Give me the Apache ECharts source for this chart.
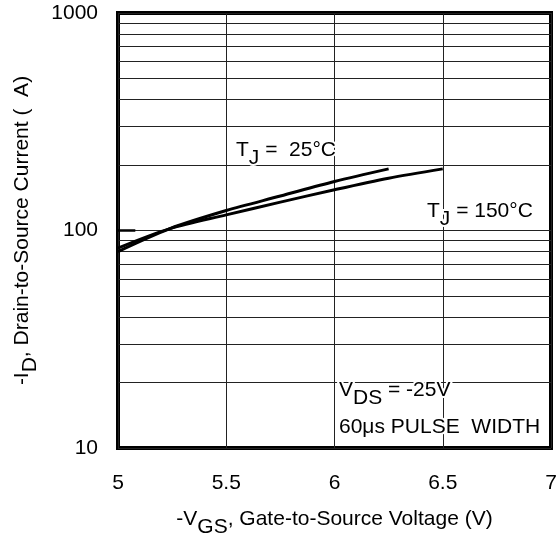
<!DOCTYPE html>
<html>
<head>
<meta charset="utf-8">
<script src="https://cdn.jsdelivr.net/npm/echarts@6/dist/echarts.min.js"></script>
<style>
html,body{margin:0;padding:0;background:#fff;}
#chart{width:558px;height:537px;}
</style>
</head>
<body>
<div id="chart"></div>
<script>
// Data
var vgs25 = [5.0, 5.24, 5.5, 5.75, 6.0, 6.25];
var id25 = [80, 102, 123.5, 144, 168, 192];
var vgs150 = [5.0, 5.24, 5.5, 5.75, 6.0, 6.25, 6.5];
var id150 = [83, 102, 118, 135, 154, 174, 192];
var xTicks = [5, 5.5, 6, 6.5, 7];
var yTicks = [10, 100, 1000];
var minorGrid = [20, 30, 40, 50, 60, 70, 80, 90, 200, 300, 400, 500, 600, 700, 800, 900];

function pairs(xs, ys) { return xs.map(function (x, i) { return [x, ys[i]]; }); }

var FONT = 'Liberation Sans';
var FS = 21;
var chart = echarts.init(document.getElementById('chart'));
var subRich = {
  n: { fontSize: FS, fontFamily: FONT, color: '#000', lineHeight: 25, verticalAlign: 'top' },
  s: { fontSize: FS, fontFamily: FONT, color: '#000', lineHeight: 25, verticalAlign: 'top', padding: [8, 0, 0, 0] }
};
var haloRich = {
  n: { fontSize: FS, fontFamily: FONT, fill: '#000', stroke: '#fff', lineWidth: 4, lineHeight: 25, verticalAlign: 'top' },
  s: { fontSize: FS, fontFamily: FONT, fill: '#000', stroke: '#fff', lineWidth: 4, lineHeight: 25, verticalAlign: 'top', padding: [8, 0, 0, 0] }
};
var option = {
  animation: false,
  backgroundColor: '#fff',
  grid: { left: 118, right: 7, top: 13, bottom: 89, show: true, borderColor: '#000', borderWidth: 4,
    backgroundColor: 'transparent', containLabel: false, outerBoundsMode: 'none' },
  xAxis: {
    type: 'value', min: 5, max: 7, interval: 0.5,
    axisLine: { show: false }, axisTick: { show: false },
    splitLine: { show: true, lineStyle: { color: '#222', width: 1 } },
    axisLabel: { fontSize: FS, fontFamily: FONT, color: '#000', margin: 25,
      formatter: function (v) { return xTicks.indexOf(v) >= 0 ? String(v) : ''; } },
    name: '{n|-V}{s|GS}{n|, Gate-to-Source Voltage (V)}',
    nameLocation: 'middle', nameGap: 61,
    nameTextStyle: { rich: subRich }
  },
  yAxis: {
    type: 'log', logBase: 10, min: 10, max: 1000,
    axisLine: { show: false }, axisTick: { show: false },
    splitLine: { show: true, lineStyle: { color: '#222', width: 1 } },
    axisLabel: { fontSize: FS, fontFamily: FONT, color: '#000', margin: 20,
      formatter: function (v) { return yTicks.indexOf(v) >= 0 ? String(v) : ''; } },
    name: '{n|-I}{s|D}{n|, Drain-to-Source Current (  A)}',
    nameLocation: 'middle', nameGap: 81, nameRotate: 90,
    nameTextStyle: { rich: subRich }
  },
  series: [
    {
      type: 'line', data: pairs(vgs25, id25), showSymbol: false, smooth: 0.3,
      lineStyle: { color: '#000', width: 3 }, z: 5,
      markLine: {
        silent: true, symbol: ['none', 'none'], label: { show: false },
        lineStyle: { color: '#222', width: 1, type: 'solid' },
        data: minorGrid.map(function (v) { return { yAxis: v }; }).concat([
          [{ coord: [5, 100], lineStyle: { width: 2.5, color: '#000', type: 'solid' } }, { coord: [5.08, 100] }]
        ]),
        z: 1
      }
    },
    {
      type: 'line', data: pairs(vgs150, id150), showSymbol: false, smooth: 0.3,
      lineStyle: { color: '#000', width: 3 }, z: 5
    }
  ],
  graphic: [
    { type: 'text', left: 234, top: 138, z: 10,
      style: { text: '{n|T}{s|J}{n| =  25°C}', rich: haloRich, strokeFirst: true } },
    { type: 'text', left: 425, top: 199, z: 10,
      style: { text: '{n|T}{s|J}{n| = 150°C}', rich: haloRich, strokeFirst: true } },
    { type: 'text', left: 337, top: 378, z: 10,
      style: { text: '{n|V}{s|DS}{n| = -25V}', rich: haloRich, strokeFirst: true } },
    { type: 'text', left: 337, top: 415, z: 10,
      style: { text: '60μs PULSE  WIDTH', fontSize: FS, fontFamily: FONT, fill: '#000', stroke: '#fff', lineWidth: 4, strokeFirst: true } }
  ]
};
chart.setOption(option);
</script>
</body>
</html>
